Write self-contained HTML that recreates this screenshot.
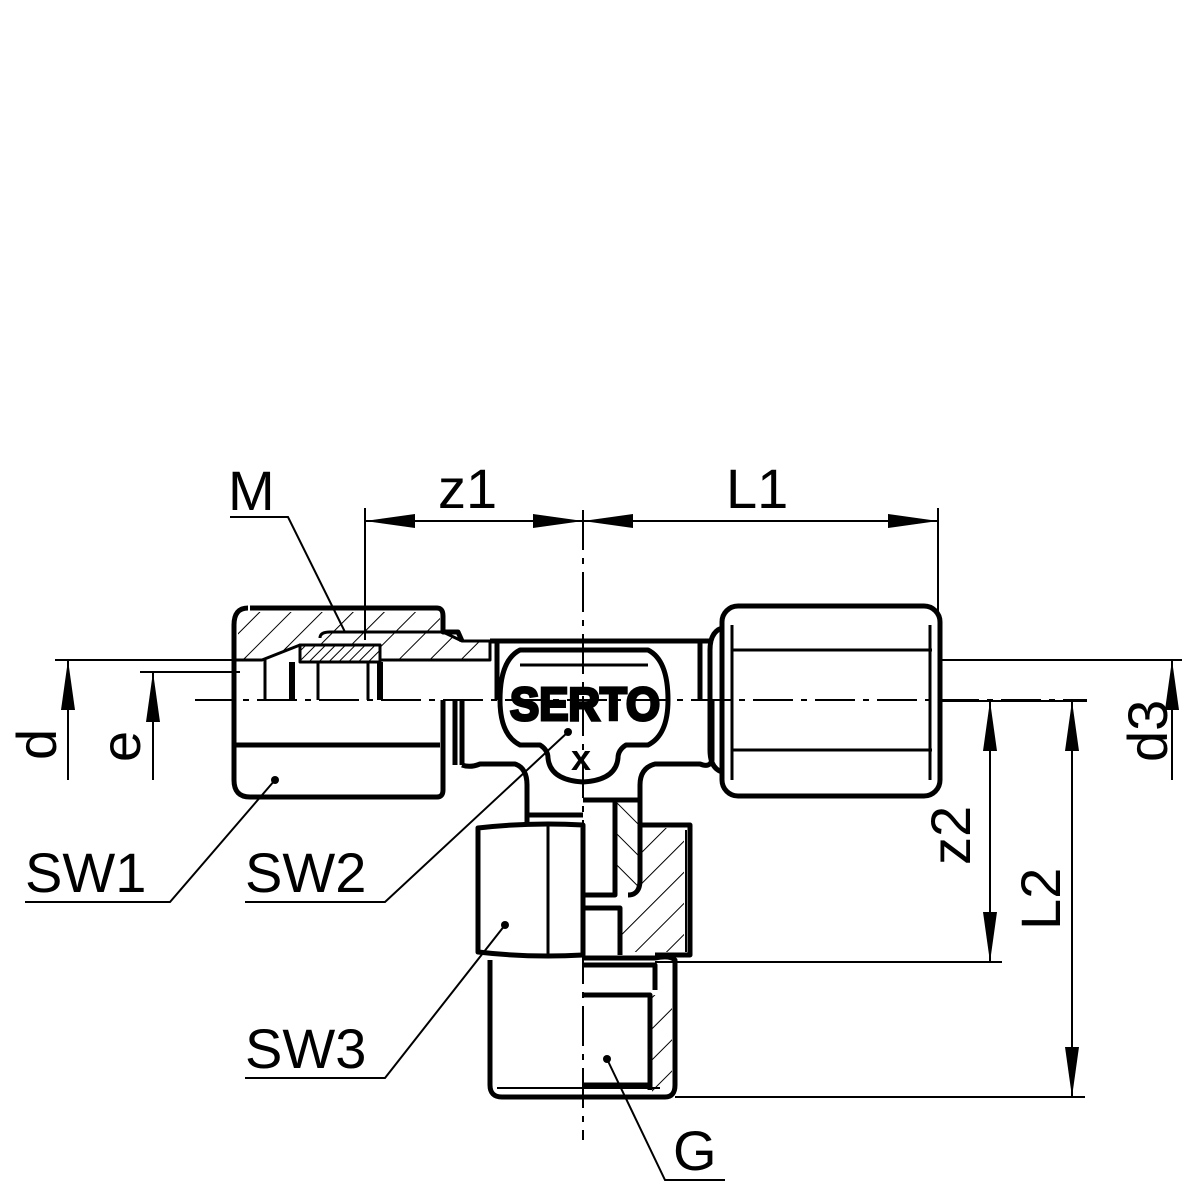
<!DOCTYPE html>
<html><head><style>html,body{margin:0;padding:0;background:#fff}svg{display:block}</style></head>
<body>
<svg width="1188" height="1188" viewBox="0 0 1188 1188" xmlns="http://www.w3.org/2000/svg" font-family="Liberation Sans, sans-serif">
<defs>
<pattern id="h" patternUnits="userSpaceOnUse" width="22" height="22" patternTransform="rotate(45)"><line x1="0" y1="0" x2="0" y2="22" stroke="#000" stroke-width="2"/></pattern>
<pattern id="h2" patternUnits="userSpaceOnUse" width="22" height="22" patternTransform="rotate(-45)"><line x1="0" y1="0" x2="0" y2="22" stroke="#000" stroke-width="2"/></pattern>
<pattern id="h3" patternUnits="userSpaceOnUse" width="7" height="7" patternTransform="rotate(45)"><line x1="0" y1="0" x2="0" y2="7" stroke="#000" stroke-width="2"/></pattern>
</defs>
<g fill="none" stroke="#000" stroke-width="2">
<line x1="583" y1="510" x2="583" y2="1140" stroke-dasharray="40,8,6,8"/>
<line x1="195" y1="700" x2="1087" y2="700" stroke-dasharray="40,8,6,8"/>
<line x1="365" y1="508" x2="365" y2="640"/>
<line x1="938" y1="508" x2="938" y2="612"/>
<line x1="365" y1="521" x2="938" y2="521"/>
<polyline points="230,517 288,517 345,632"/>
<line x1="55" y1="660" x2="240" y2="660"/>
<line x1="140" y1="672" x2="240" y2="672"/>
<line x1="68" y1="660" x2="68" y2="780"/>
<line x1="153" y1="672" x2="153" y2="780"/>
<line x1="942" y1="660" x2="1182" y2="660"/>
<line x1="942" y1="701" x2="1087" y2="701"/>
<line x1="1172" y1="660" x2="1172" y2="780"/>
<line x1="990" y1="700" x2="990" y2="962"/>
<line x1="1072" y1="700" x2="1072" y2="1097"/>
<line x1="655" y1="962" x2="1002" y2="962"/>
<line x1="675" y1="1097" x2="1085" y2="1097"/>
<polyline points="25,902 170,902 275,780"/>
<polyline points="245,902 385,902 568,732"/>
<polyline points="245,1078 385,1078 505,925"/>
<polyline points="725,1180 665,1180 607,1059"/>
</g>
<g fill="#000">
<polygon points="365,521 415,514 415,528"/><polygon points="583,521 533,514 533,528"/>
<polygon points="583,521 633,514 633,528"/><polygon points="938,521 888,514 888,528"/>
<polygon points="68,660 61,710 75,710"/><polygon points="153,672 146,722 160,722"/>
<polygon points="1172,660 1165,710 1179,710"/>
<polygon points="990,701 983,751 997,751"/><polygon points="990,962 983,912 997,912"/>
<polygon points="1072,701 1065,751 1079,751"/><polygon points="1072,1097 1065,1047 1079,1047"/>
<circle cx="275" cy="780" r="4"/><circle cx="568" cy="732" r="4"/><circle cx="505" cy="925" r="4"/><circle cx="607" cy="1059" r="4"/>
</g>
<g fill="none" stroke="#000" stroke-width="5" stroke-linejoin="round">
<path d="M250,608 H437 Q443,608 443,616 V632 H458 L462,641"/>
<path d="M248,608 Q234,608 234,625 V780 Q234,797 250,797 H437 Q443,797 443,790 V700"/>
<line x1="443" y1="700" x2="443" y2="745"/>
<path d="M236,745 H440"/>
<path d="M236,660 H262 L300,645 H380 V660 H490 V641 L462,641 L443,632 H330 Q320,632 320,638" fill="url(#h)" stroke-width="3"/>
<path d="M238,612 H440 V632 H330 L300,645 L262,660 H238 Z" fill="url(#h)" stroke="none"/>
<rect x="300" y="645" width="80" height="17" fill="url(#h3)" stroke-width="3"/>
<line x1="265" y1="660" x2="265" y2="700" stroke-width="3"/>
<line x1="292" y1="662" x2="292" y2="700" stroke-width="6"/>
<line x1="318" y1="662" x2="318" y2="700" stroke-width="3"/>
<line x1="368" y1="662" x2="368" y2="700" stroke-width="3"/>
<line x1="380" y1="662" x2="380" y2="700" stroke-width="6"/>
<line x1="490" y1="641" x2="710" y2="641"/>
<line x1="455" y1="700" x2="455" y2="765"/>
<line x1="462" y1="700" x2="462" y2="765"/>
<path d="M462,765 Q470,768 480,764 H515 Q527,768 527,785 V825"/>
<path d="M640,825 V785 Q640,768 655,764 H700 Q710,768 712,760 V700"/>
<line x1="497" y1="641" x2="497" y2="700"/>
<line x1="700" y1="700" x2="700" y2="641"/>
<path d="M520,650 Q500,660 500,700 Q500,735 520,745 H540 Q548,750 548,758 Q550,780 583,782 Q616,780 618,758 Q618,750 626,745 H648 Q668,735 668,700 Q668,660 648,650 Z"/>
<line x1="520" y1="665" x2="648" y2="665" stroke-width="3"/>
<rect x="722" y="606" width="218" height="190" rx="16"/>
<line x1="732" y1="650" x2="932" y2="650" stroke-width="3"/>
<line x1="732" y1="750" x2="932" y2="750" stroke-width="3"/>
<line x1="732" y1="625" x2="732" y2="780" stroke-width="3"/>
<line x1="930" y1="625" x2="930" y2="780" stroke-width="3"/>
<path d="M722,628 Q710,632 710,650 V750 Q710,768 722,772"/>
<path d="M527,815 H583"/>
<path d="M478,828 Q530,822 583,825 V955 Q530,958 478,952 Z"/>
<line x1="548" y1="826" x2="548" y2="956" stroke-width="3"/>
<path d="M583,800 H640 V825 H690 V955 H655"/>
<path d="M615,800 V895 H583"/>
<path d="M583,908 H620 V955"/>
<path d="M640,825 V880 Q640,895 628,895"/>
<line x1="686" y1="830" x2="686" y2="952" stroke-width="2"/>
<path d="M490,960 V1085 Q490,1097 502,1097 H665 Q675,1097 675,1085 V960 Q670,955 655,958 H583"/>
<line x1="497" y1="1088" x2="660" y2="1088" stroke-width="2"/>
<path d="M583,995 H650 V1090"/>
<path d="M583,965 H655 V990"/>
<line x1="583" y1="1085" x2="650" y2="1085"/>
</g>
<path d="M617,803 H638 V880 Q638,893 625,893 H617 Z" fill="url(#h2)"/>
<path d="M642,828 H684 V952 H622 V910 Q640,897 642,880 Z" fill="url(#h)"/>
<path d="M652,995 H672 V1094 H652 Z" fill="url(#h)"/>
<g font-size="56" fill="#000">
<text x="228" y="510">M</text>
<text x="438" y="508">z1</text>
<text x="726" y="508">L1</text>
<text x="25" y="892">SW1</text>
<text x="245" y="892">SW2</text>
<text x="245" y="1068">SW3</text>
<text x="673" y="1170">G</text>
<text transform="translate(56,760) rotate(-90)">d</text>
<text transform="translate(140,762) rotate(-90)">e</text>
<text transform="translate(1167,762) rotate(-90)">d3</text>
<text transform="translate(970,865) rotate(-90)">z2</text>
<text transform="translate(1060,930) rotate(-90)">L2</text>
</g>
<text x="510" y="720" font-size="46" font-weight="bold" fill="#000" stroke="#000" stroke-width="3" textLength="150" lengthAdjust="spacingAndGlyphs">SERTO</text>
<text x="571" y="770" font-size="36" font-weight="bold" fill="#000">x</text>
</svg>
</body></html>
